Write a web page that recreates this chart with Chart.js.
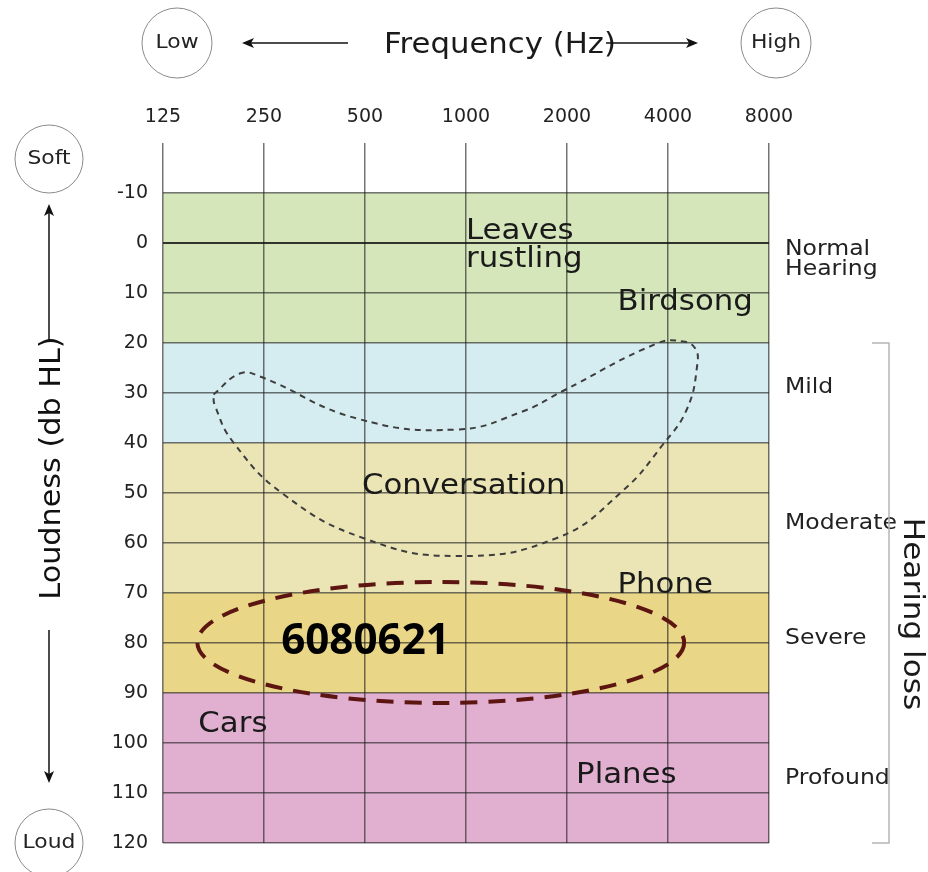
<!DOCTYPE html>
<html>
<head>
<meta charset="utf-8">
<script src="https://cdn.jsdelivr.net/npm/chart.js@4.4.1/dist/chart.umd.min.js"></script>
<style>
  body { margin: 0; background: #fff; }
  #wrap { width: 928px; height: 872px; }
</style>
</head>
<body>
<div id="wrap"><canvas id="audiogram"></canvas></div>
<script>
// frequency columns (Hz) and hearing level bands (dB HL)
var freqLabels = ['125', '250', '500', '1000', '2000', '4000', '8000'];
var bandEdges = [-10, 20, 40, 70, 90, 120];
var bandColors = ['#d5e6bb', '#d5edf1', '#ebe5b5', '#e9d687', '#e1b0d1'];

// degree of hearing loss, label baseline in dB
var degreeNames = [['Normal', 'Hearing'], ['Mild'], ['Moderate'], ['Severe'], ['Profound']];
var degreeDb = [2.4, 29.9, 57.2, 80.1, 108.1];

// everyday sounds (x = frequency column, y = dB at baseline)
var soundNames = [['Leaves', 'rustling'], ['Birdsong'], ['Conversation'], ['Phone'], ['Cars'], ['Planes']];
var soundX = [3.0, 4.5, 1.97, 4.5, 0.35, 4.09];
var soundDb = [-0.8, 13.3, 50.2, 70.0, 97.7, 107.9];

// "speech banana" outline
var bananaX = [0.50, 0.76, 0.96, 1.92, 2.91, 3.56, 3.95, 4.89, 5.15, 5.27, 5.29, 5.19, 4.95, 4.55, 3.90, 2.91, 1.98, 1.19, 0.69, 0.51];
var bananaDb = [30.3, 26.1, 26.7, 35.1, 37.3, 33.7, 29.7, 20.1, 19.7, 21.1, 24.3, 33.1, 40.3, 49.6, 59.0, 62.6, 59.0, 50.2, 39.7, 32.3];

// highlighted result
var markText = '6080621';
var markX = 1.17, markDb = 82.1;
var ringCenter = [2.75, 79.9];
var ringRadius = [2.41, 12.1];

var FONT = '"DejaVu Sans", sans-serif';

var bananaPts = bananaX.map(function (x, i) { return { x: x, y: bananaDb[i] }; });
bananaPts.push(bananaPts[0]);

// text is a bit wider in the original drawing, so stretch it along its direction
function say(ctx, txt, x, y, align, rot, sx) {
    ctx.save();
    ctx.translate(x, y);
    if (rot) ctx.rotate(rot);
    ctx.scale(sx || 1, 1);
    ctx.textAlign = align;
    ctx.fillText(txt, 0, 0);
    ctx.restore();
}

function arrow(ctx, x1, y1, x2, y2) {
    var a = Math.atan2(y2 - y1, x2 - x1);
    ctx.beginPath();
    ctx.moveTo(x1, y1);
    ctx.lineTo(x2 - 8 * Math.cos(a), y2 - 8 * Math.sin(a));
    ctx.stroke();
    ctx.save();
    ctx.translate(x2, y2);
    ctx.rotate(a);
    ctx.beginPath();
    ctx.moveTo(0, 0);
    ctx.lineTo(-12, -5);
    ctx.lineTo(-9, 0);
    ctx.lineTo(-12, 5);
    ctx.closePath();
    ctx.fill();
    ctx.restore();
}

function circleLabel(ctx, cx, cy, r, txt) {
    ctx.beginPath();
    ctx.arc(cx, cy, r, 0, Math.PI * 2);
    ctx.strokeStyle = '#8a8a8a';
    ctx.lineWidth = 1;
    ctx.stroke();
    ctx.fillStyle = '#222';
    ctx.font = '19px ' + FONT;
    ctx.textBaseline = 'middle';
    say(ctx, txt, cx, cy, 'center', 0, 1.15);
    ctx.textBaseline = 'alphabetic';
}

var bandsPlugin = {
    id: 'bands',
    beforeDraw: function (chart) {
        var ctx = chart.ctx, xs = chart.scales.x, ys = chart.scales.y;
        var l = xs.getPixelForValue(0), r = xs.getPixelForValue(6);
        ctx.save();
        for (var i = 0; i < bandColors.length; i++) {
            var t = ys.getPixelForValue(bandEdges[i]);
            var b = ys.getPixelForValue(bandEdges[i + 1]);
            ctx.fillStyle = bandColors[i];
            ctx.fillRect(l, t, r - l, b - t);
        }
        ctx.restore();
    }
};

var decorPlugin = {
    id: 'decor',
    afterDraw: function (chart) {
        var ctx = chart.ctx, xs = chart.scales.x, ys = chart.scales.y;
        ctx.save();
        ctx.textBaseline = 'alphabetic';

        // sound labels
        ctx.fillStyle = '#1a1a1a';
        ctx.font = '28px ' + FONT;
        soundNames.forEach(function (lines, i) {
            var px = xs.getPixelForValue(soundX[i]);
            var py = ys.getPixelForValue(soundDb[i]);
            lines.forEach(function (ln, k) { say(ctx, ln, px, py + k * 28, 'left', 0, 1.1); });
        });

        // highlighted result ring
        var cx = xs.getPixelForValue(ringCenter[0]), cy = ys.getPixelForValue(ringCenter[1]);
        var rx = xs.getPixelForValue(ringCenter[0] + ringRadius[0]) - cx;
        var ry = ys.getPixelForValue(ringCenter[1] + ringRadius[1]) - cy;
        ctx.beginPath();
        ctx.ellipse(cx, cy, rx, ry, 0, 0, Math.PI * 2);
        ctx.strokeStyle = '#5c1510';
        ctx.lineWidth = 4;
        ctx.setLineDash([17, 11]);
        ctx.stroke();
        ctx.setLineDash([]);
        ctx.fillStyle = '#000';
        ctx.font = 'bold 43px "Open Sans", sans-serif';
        say(ctx, markText, xs.getPixelForValue(markX), ys.getPixelForValue(markDb), 'left', 0, 0.98);

        // degree labels on the right
        var rx0 = chart.chartArea.right + 16;
        ctx.fillStyle = '#222';
        ctx.font = '21px ' + FONT;
        degreeNames.forEach(function (lines, i) {
            var py = ys.getPixelForValue(degreeDb[i]);
            lines.forEach(function (ln, k) { say(ctx, ln, rx0, py + k * 20, 'left', 0, 1.12); });
        });

        // hearing loss bracket
        var bt = ys.getPixelForValue(20), bb = ys.getPixelForValue(120);
        ctx.strokeStyle = '#b5b5b5';
        ctx.lineWidth = 1.5;
        ctx.beginPath();
        ctx.moveTo(872, bt); ctx.lineTo(889, bt); ctx.lineTo(889, bb); ctx.lineTo(872, bb);
        ctx.stroke();
        ctx.fillStyle = '#1a1a1a';
        ctx.font = '28px ' + FONT;
        say(ctx, 'Hearing loss', 904, 614, 'center', Math.PI / 2, 1.11);

        // frequency title with arrows
        ctx.font = '29px ' + FONT;
        say(ctx, 'Frequency (Hz)', 500, 53, 'center', 0, 1.06);
        ctx.strokeStyle = '#111';
        ctx.fillStyle = '#111';
        ctx.lineWidth = 1.5;
        arrow(ctx, 348, 43, 242, 43);
        arrow(ctx, 606, 43, 698, 43);

        // loudness title with arrows
        ctx.font = '28px ' + FONT;
        say(ctx, 'Loudness (db HL)', 60, 468, 'center', -Math.PI / 2, 1.08);
        arrow(ctx, 49, 340, 49, 204);
        arrow(ctx, 49, 630, 49, 783);

        circleLabel(ctx, 177, 43, 35, 'Low');
        circleLabel(ctx, 776, 43, 35, 'High');
        circleLabel(ctx, 49, 159, 34, 'Soft');
        circleLabel(ctx, 49, 843, 34, 'Loud');

        ctx.restore();
    }
};

new Chart(document.getElementById('audiogram'), {
    type: 'line',
    data: {
        datasets: [{
            data: bananaPts,
            borderColor: '#3d3d3d',
            borderWidth: 2,
            borderDash: [6, 5],
            pointRadius: 0,
            tension: 0.45,
            fill: false
        }]
    },
    options: {
        responsive: true,
        maintainAspectRatio: false,
        animation: false,
        layout: { padding: { left: 0, top: 0, right: 159, bottom: 29 } },
        plugins: { legend: { display: false }, tooltip: { enabled: false } },
        scales: {
            x: {
                type: 'linear',
                position: 'top',
                min: 0,
                max: 6,
                afterFit: function (s) { s.height = 143; },
                border: { display: false },
                grid: { color: 'rgba(30,30,30,0.62)', lineWidth: 1.5, drawTicks: false },
                ticks: {
                    stepSize: 1,
                    padding: 15,
                    color: '#222',
                    font: { family: 'DejaVu Sans', size: 19 },
                    callback: function (v) { return freqLabels[v]; }
                }
            },
            y: {
                type: 'linear',
                reverse: true,
                min: -20,
                max: 120,
                afterFit: function (s) { s.width = 163; },
                border: { display: false },
                grid: {
                    drawTicks: false,
                    color: function (c) {
                        if (c.tick.value === -20) return 'rgba(0,0,0,0)';
                        if (c.tick.value === 0) return 'rgba(20,20,20,0.85)';
                        return 'rgba(30,30,30,0.62)';
                    },
                    lineWidth: function (c) { return c.tick.value === 0 ? 2 : 1.5; }
                },
                ticks: {
                    stepSize: 10,
                    padding: 15,
                    color: '#222',
                    font: { family: 'DejaVu Sans', size: 19 },
                    callback: function (v) { return v === -20 ? '' : v; }
                }
            }
        }
    },
    plugins: [bandsPlugin, decorPlugin]
});
</script>
</body>
</html>
